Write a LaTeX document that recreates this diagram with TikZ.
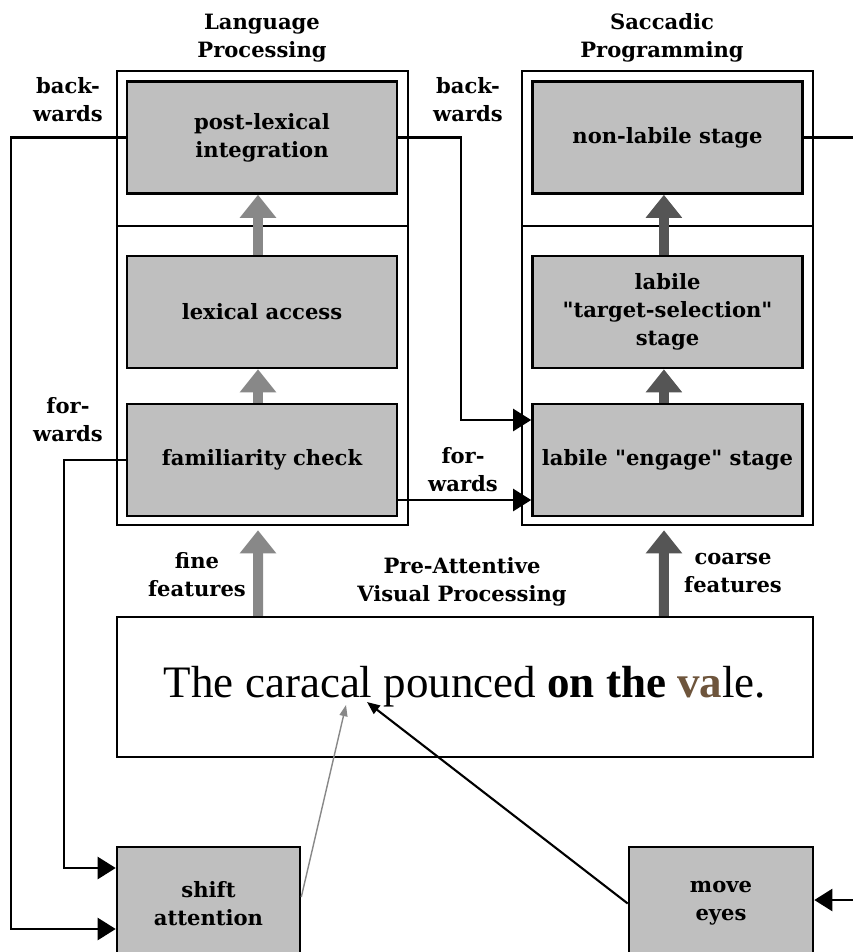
\documentclass[tikz,border=0pt]{standalone}
\usepackage{fontspec}
\setmainfont{Liberation Serif}
\newfontfamily\labelfont{DejaVu Serif}
\usetikzlibrary{
    positioning,
    arrows.meta,
    calc
}
\definecolor{stagegray}{RGB}{191, 191, 191}
\definecolor{fineflow}{RGB}{136, 136, 136}
\definecolor{coarseflow}{RGB}{85, 85, 85}
\definecolor{smudge}{RGB}{110, 85, 60}

\begin{document}
\begin{tikzpicture}[
    x=0.025cm, y=-0.025cm,
    stage/.style={rectangle, draw=black, fill=stagegray, line width=1.8pt, inner sep=0pt,
                  minimum width=6.75cm, minimum height=2.8cm, align=center,
                  font=\labelfont\bfseries\fontsize{15}{20}\selectfont},
    panel/.style={rectangle, draw=black, line width=1.5pt, inner sep=0pt},
    lbl/.style={align=center, font=\labelfont\bfseries\fontsize{15}{20}\selectfont},
    fat/.style={-{Triangle[length=0.575cm, width=0.875cm]}, line width=0.25cm, draw=#1},
    link/.style={-{Triangle[length=0.45cm, width=0.55cm]}, line width=1.6pt, #1}
]

% Page frame
\useasboundingbox (0,0) rectangle (853,952);
\clip (0,0) rectangle (853,952);

% ============================================
% LANGUAGE PROCESSING
% ============================================
\node[lbl] at (262, 38) {Language\\Processing};
\node[panel, minimum width=7.275cm, minimum height=11.35cm] (langpanel) at (262.5, 298) {};
\draw[line width=1.5pt] (langpanel.west |- 0,226) -- (langpanel.east |- 0,226);

\node[stage] (post) at (262, 137.5) {post-lexical\\integration};
\node[stage] (lex) at (262, 312) {lexical access};
\node[stage] (fam) at (262, 460) {familiarity check};

\draw[fat=fineflow] ([xshift=-0.1cm]lex.north) -- ([xshift=-0.1cm]post.south);
\draw[fat=fineflow] ([xshift=-0.1cm]fam.north) -- ([xshift=-0.1cm]lex.south);

% ============================================
% SACCADIC PROGRAMMING
% ============================================
\node[lbl] at (662, 38) {Saccadic\\Programming};
\node[panel, minimum width=7.275cm, minimum height=11.35cm] (saccpanel) at (667.5, 298) {};
\draw[line width=1.5pt] (saccpanel.west |- 0,226) -- (saccpanel.east |- 0,226);

\node[stage] (nonlab) at (667.5, 137.5) {non-labile stage};
\node[stage] (target) at (667.5, 312) {labile\\"target-selection"\\stage};
\node[stage] (engage) at (667.5, 460) {labile "engage" stage};

\draw[fat=coarseflow] ([xshift=-0.09cm]target.north) -- ([xshift=-0.09cm]nonlab.south);
\draw[fat=coarseflow] ([xshift=-0.09cm]engage.north) -- ([xshift=-0.09cm]target.south);

% ============================================
% PRE-ATTENTIVE VISUAL PROCESSING
% ============================================
\node[panel, minimum width=17.4cm, minimum height=3.5cm, font=\fontsize{32}{36}\selectfont] (sentence) at (465, 687)
    {The caracal pounced \textbf{on the \textcolor{smudge}{va}}le.};
\node[lbl] at (462, 582) {Pre-Attentive\\Visual Processing};

\draw[fat=fineflow] ([xshift=-0.1cm]fam.south |- sentence.north) -- ($(fam.south)+(-4,13)$);
\draw[fat=coarseflow] ([xshift=-0.09cm]engage.south |- sentence.north) -- ($(engage.south)+(-3.5,13)$);
\node[lbl] at (197, 575) {fine\\features};
\node[lbl] at (733, 573) {coarse\\features};

% ============================================
% MOTOR OUTPUT
% ============================================
\node[stage, minimum width=4.575cm, minimum height=2.825cm] (shift) at (208.5, 903.5) {shift\\attention};
\node[stage, minimum width=4.6cm, minimum height=2.825cm] (move) at (721, 903.5) {move\\eyes};

\coordinate (gazeword) at (346, 705);
\coordinate (eyeword) at (367, 702);

% Backwards / forwards signals
\draw[link] (post.west) -- ++(-115,0) |- ($(shift.west)+(0,25.5)$);
\draw[link] (fam.west) -- ++(-62,0) |- ($(shift.west)+(0,-35.5)$);
\node[lbl] at (68, 100) {back-\\wards};
\node[lbl] at (68, 420) {for-\\wards};

\draw[link] (post.east) -- ++(63,0) |- ($(engage.west)+(0,-40)$);
\draw[link] ($(fam.east)+(0,40)$) -- ($(engage.west)+(0,40)$);
\node[lbl] at (468, 100) {back-\\wards};
\node[lbl] at (463, 470) {for-\\wards};

\draw[link] (nonlab.east) -- ++(75,0) |- ($(move.east)+(0,-3.5)$);

% Attention and gaze to the word
\draw[-{Triangle[length=0.28cm, width=0.2cm]}, line width=1pt, fineflow] ($(shift.east)+(0,-6.5)$) -- (gazeword);
\draw[-{Triangle[length=0.32cm, width=0.26cm]}, line width=1.5pt] (move.west) -- (eyeword);

\end{tikzpicture}
\end{document}
